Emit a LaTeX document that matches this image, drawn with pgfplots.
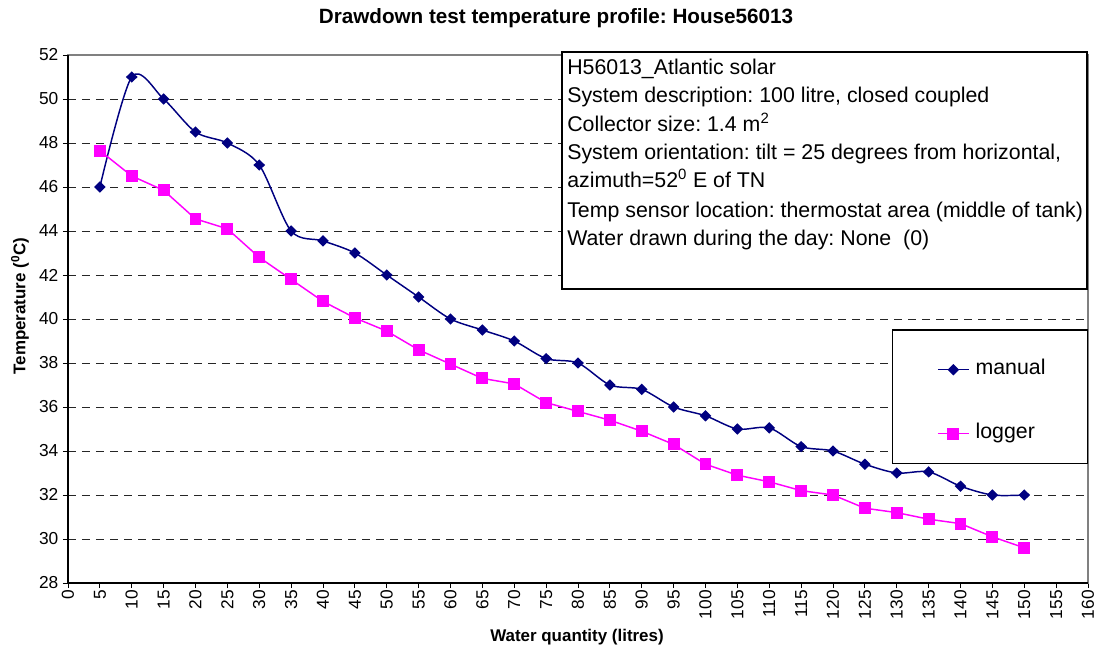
\documentclass[border=0pt]{standalone}
\usepackage{fontspec}
\setmainfont{Liberation Sans}
\usepackage{pgfplots}
\pgfplotsset{compat=1.18}
\definecolor{manualc}{HTML}{000080}
\definecolor{loggerc}{HTML}{FF00FF}
\frenchspacing

\begin{document}
\begin{tikzpicture}
\begin{axis}[
  at={(0,0)}, anchor=south west,
  scale only axis, width=765pt, height=396pt,
  xmin=0, xmax=160, ymin=28, ymax=52,
  xtick={0,5,...,160}, ytick={28,30,...,52},
  tick align=outside, xtick pos=left, ytick pos=left,
  major tick length=3.75pt,
  tick style={black, line width=0.6pt},
  axis line style={draw=gray, line width=0.8pt},
  ymajorgrids,
  major grid style={black!85, dash pattern=on 6pt off 4.5pt, line width=0.6pt},
  /pgf/number format/assume math mode=true,
  ticklabel style={font=\fontsize{13}{15}\selectfont},
  xticklabel style={rotate=90, anchor=east, inner sep=1.5pt},
  clip=false,
  legend style={at={(axis cs:136.3,38.1)}, anchor=north west,
    draw=none, fill=none, inner sep=0pt, row sep=35pt, column sep=4.5pt,
    nodes={inner sep=0pt, text height=10pt, text depth=3pt,
      font=\fontsize{16}{18}\selectfont}},
  legend cell align=left,
  legend image code/.code={\draw[mark repeat=2,mark phase=2,#1]
    plot coordinates {(0pt,0pt) (11.6pt,0pt) (23.2pt,0pt)};},
]
% legend box (white, covers grid)
\draw[black, fill=white, line width=0.8pt] (axis cs:129.4,39.5) rectangle (axis cs:159.85,33.45);

\addplot[manualc, line width=1.1pt, smooth, tension=0.5,
  mark=diamond*, mark size=3.5pt, mark options={solid, fill=manualc, xscale=1.35}]
  coordinates {
  (5,46) (10,51) (15,50) (20,48.5) (25,48) (30,47) (35,44) (40,43.55)
  (45,43) (50,42) (55,41) (60,40) (65,39.5) (70,39) (75,38.2) (80,38)
  (85,37) (90,36.8) (95,36) (100,35.6) (105,35) (110,35.05) (115,34.2)
  (120,34) (125,33.4) (130,33) (135,33.05) (140,32.4) (145,32) (150,32)
};
\addlegendentry{manual}

\addplot[loggerc, line width=1.1pt,
  mark=square*, mark size=3.9pt, mark options={solid, fill=loggerc}]
  coordinates {
  (5,47.65) (10,46.5) (15,45.85) (20,44.55) (25,44.1) (30,42.8) (35,41.8)
  (40,40.8) (45,40.05) (50,39.45) (55,38.6) (60,37.95) (65,37.3) (70,37.05)
  (75,36.2) (80,35.8) (85,35.4) (90,34.9) (95,34.3) (100,33.4) (105,32.9)
  (110,32.6) (115,32.2) (120,32) (125,31.4) (130,31.2) (135,30.9) (140,30.7)
  (145,30.1) (150,29.6)
};
\addlegendentry{logger}

% black left and bottom axis lines
\draw[black, line width=0.8pt] (rel axis cs:0,1) -- (rel axis cs:0,0) -- (rel axis cs:1,0);
\end{axis}

% pixel scope: (px,py) of the reference image
\begin{scope}[shift={(-51pt,437.25pt)}, x=0.75pt, y=-0.75pt]
  % info box
  \draw[black, fill=white, line width=0.8pt] (562,52) rectangle (1087,289);
  \foreach \yy/\txt in {75/{H56013\_Atlantic solar},
      103/{System description: 100 litre, closed coupled},
      132/{Collector size: 1.4 m\textsuperscript{2}},
      160/{System orientation: tilt = 25 degrees from horizontal,},
      188/{azimuth=52\textsuperscript{0} E of TN},
      217/{Temp sensor location: thermostat area (middle of tank)},
      245/{Water drawn during the day: None\ \ (0)}}
    \node[anchor=base west, inner sep=0pt, font=\fontsize{16}{18}\selectfont] at (567,\yy) {\txt};
  % title and axis labels
  \node[font=\fontsize{15.5}{17}\selectfont\bfseries] at (556,18) {Drawdown test temperature profile: House56013};
  \node[font=\fontsize{12.7}{15}\selectfont\bfseries] at (577,637) {Water quantity (litres)};
  \node[font=\fontsize{12.7}{15}\selectfont\bfseries, rotate=90] at (20,306) {Temperature (\textsuperscript{0}C)};
  \pgfresetboundingbox
  \path (0,0) rectangle (1099,651);
\end{scope}
\end{tikzpicture}
\end{document}
